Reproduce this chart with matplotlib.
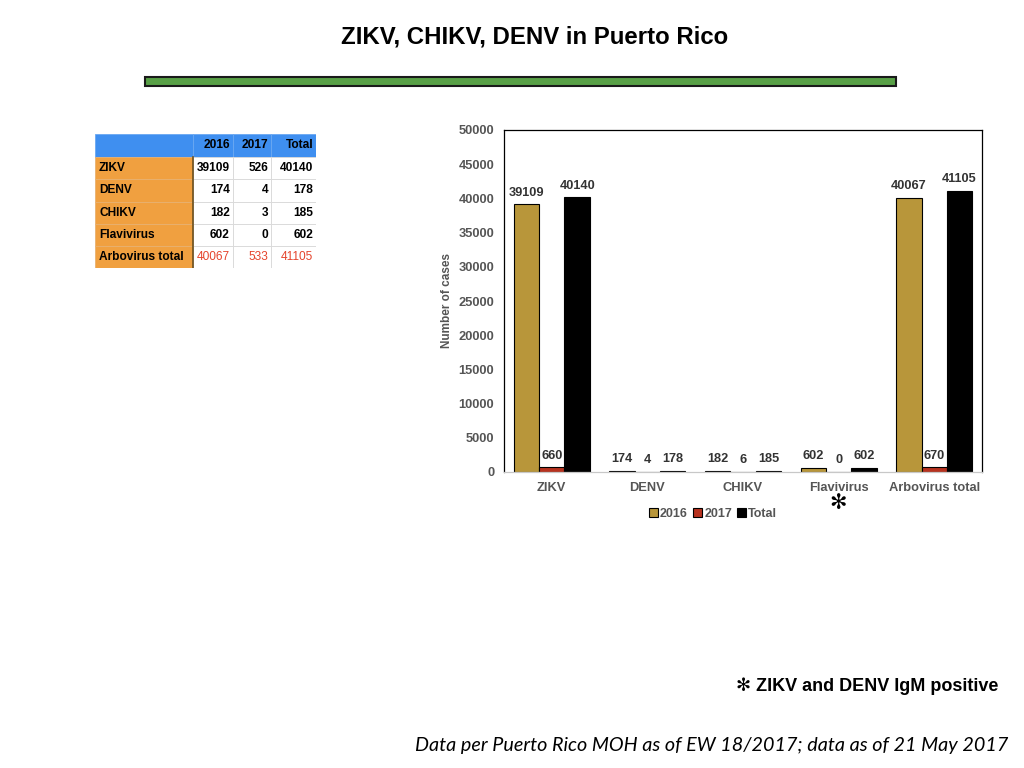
import matplotlib
matplotlib.use("Agg")
import matplotlib.pyplot as plt
from matplotlib.patches import Rectangle
import numpy as np

plt.rcParams['font.family'] = ['Liberation Sans', 'DejaVu Sans']

# chart data
categories = ['ZIKV', 'DENV', 'CHIKV', 'Flavivirus', 'Arbovirus total']
cases_2016 = [39109, 174, 182, 602, 40067]
cases_2017 = [660, 4, 6, 0, 670]
cases_total = [40140, 178, 185, 602, 41105]
yticks = [0, 5000, 10000, 15000, 20000, 25000, 30000, 35000, 40000, 45000, 50000]

# table data
table_header = ['', '2016', '2017', 'Total']
table_rows = ['ZIKV', 'DENV', 'CHIKV', 'Flavivirus', 'Arbovirus total']
table_2016 = [39109, 174, 182, 602, 40067]
table_2017 = [526, 4, 3, 0, 533]
table_total = [40140, 178, 185, 602, 41105]

W, H = 1024, 768
fig = plt.figure(figsize=(W / 100, H / 100), dpi=100)

def px(x0, y0, x1, y1):
    # pixel box (top-left origin) -> figure rect
    return (x0 / W, 1 - y1 / H, (x1 - x0) / W, (y1 - y0) / H)

# title + green rule
fig.text(535 / W, 1 - 37 / H, 'ZIKV, CHIKV, DENV in Puerto Rico', ha='center', va='center',
         fontsize=17.3, fontweight='bold')
fig.patches.append(Rectangle((145 / W, 1 - 86 / H), (896 - 145) / W, 9 / H, transform=fig.transFigure,
                             facecolor='#58a046', edgecolor='#1a1a1a', linewidth=1.5))

# bar chart
ax = fig.add_axes(px(504, 130, 982, 472))
x = np.arange(len(categories))
bw = 0.265
colors = ['#b8963a', '#b8321f', '#000000']
series = [('2016', cases_2016), ('2017', cases_2017), ('Total', cases_total)]
for i, (name, vals) in enumerate(series):
    bars = ax.bar(x + (i - 1) * bw, vals, bw, color=colors[i], edgecolor='black', linewidth=0.8, label=name)
    ax.bar_label(bars, padding=4, fontsize=9.2, fontweight='bold', color='#333333')

ax.set_xlim(-0.5, len(categories) - 0.5)
ax.set_ylim(0, 50000)
ax.set_yticks(yticks)
ax.set_yticklabels([str(v) for v in yticks])
ax.set_xticks(x)
ax.set_xticklabels(categories)
ax.tick_params(axis='both', length=0, labelsize=9.3, labelcolor='#555555', pad=7)
for lab in ax.get_xticklabels() + ax.get_yticklabels():
    lab.set_fontweight('bold')
for s in ax.spines.values():
    s.set_linewidth(0.9)
ax.spines['bottom'].set_color('#c8c8c8')
ax.set_ylabel('Number of cases', fontsize=8.5, fontweight='bold', color='#555555', labelpad=4)

fig.text(838 / W, 1 - 503 / H, '\u273b', ha='center', va='center', fontsize=15,
         family=['DejaVu Sans'])

leg = fig.legend(loc='center', bbox_to_anchor=(713 / W, 1 - 514 / H), ncol=3, frameon=False,
                 handlelength=0.7, handleheight=0.7, handletextpad=0.2, columnspacing=0.4,
                 prop={'weight': 'bold', 'size': 9})
for t in leg.get_texts():
    t.set_color('#555555')

# table
tax = fig.add_axes(px(95, 134, 316, 268))
tax.set_xlim(95, 316)
tax.set_ylim(268, 134)
tax.axis('off')
col_edges = [95, 193, 233, 271, 316]
row_edges = [134, 157, 179, 202, 224, 246, 268]
blue, orange = '#3f8ff0', '#f0a040'
grid = '#d8d8d8'
cols = [table_2016, table_2017, table_total]
for r in range(len(row_edges) - 1):
    for c in range(len(col_edges) - 1):
        x0, x1 = col_edges[c], col_edges[c + 1]
        y0, y1 = row_edges[r], row_edges[r + 1]
        if r == 0:
            fc, ec = blue, '#6aa8f2'
        elif c == 0:
            fc, ec = orange, '#e8b070'
        else:
            fc, ec = 'white', grid
        tax.add_patch(Rectangle((x0, y0), x1 - x0, y1 - y0, facecolor=fc, edgecolor=ec, linewidth=0.6))
        yc = (y0 + y1) / 2
        if r == 0:
            if c > 0:
                tax.text(x1 - 3, yc, table_header[c], ha='right', va='center', fontsize=8.6, fontweight='bold')
        elif c == 0:
            tax.text(x0 + 4, yc, table_rows[r - 1], ha='left', va='center', fontsize=8.6, fontweight='bold')
        else:
            last = r == len(row_edges) - 2
            tax.text(x1 - 3, yc, str(cols[c - 1][r - 1]), ha='right', va='center', fontsize=8.6,
                     fontweight='bold' if not last else 'normal', color='#e5442c' if last else 'black')
tax.plot([193, 193], [157, 268], color='#6b5020', linewidth=1.2)

# footnotes
fig.text(998 / W, 1 - 686 / H, '\u273b ZIKV and DENV IgM positive', ha='right', va='center', fontsize=13,
         fontweight='bold', family=['Liberation Sans', 'DejaVu Sans'])
fig.text(1008 / W, 1 - 745 / H, 'Data per Puerto Rico MOH as of EW 18/2017; data as of 21 May 2017',
         ha='right', va='center', fontsize=14.2, style='italic', family=['Lato', 'DejaVu Sans'])

fig.savefig('out.png', dpi=100)
